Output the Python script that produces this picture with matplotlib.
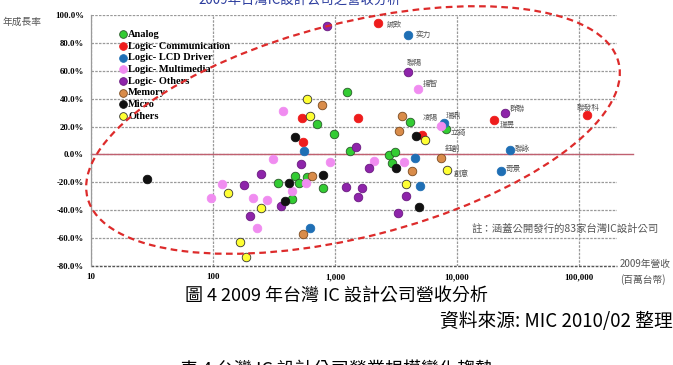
import matplotlib
matplotlib.use("Agg")
from matplotlib import pyplot as plt
from matplotlib.patches import Ellipse
from matplotlib.ticker import FuncFormatter

# 2009 revenue (NT$ million) and yearly growth (%), per segment
analog_rev = [980, 712, 1247, 4120, 8130, 1327, 2787, 3100, 2910, 473, 592, 343, 509, 804, 447]
analog_gr = [15, 21.7, 44.9, 23.4, 18.6, 2.4, -0.5, 1.4, -6, -15.8, -16.3, -20.8, -20.8, -24.4, -32.3]

comm_rev = [537, 548, 2265, 1535, 5130, 20200, 115600]
comm_gr = [26.2, 9, 94.6, 25.8, 13.8, 24.6, 28.2]

lcd_rev = [553, 3990, 7870, 4530, 5010, 27200, 22800, 621]
lcd_gr = [2.4, 85.5, 22.9, -2.9, -22.5, 3.1, -11.7, -52.5]

mm_rev = [375, 309, 909, 578, 119, 442, 95.5, 211, 279, 230, 4754, 7395, 2090, 3680]
mm_gr = [31, -3, -5.7, -20.8, -21.3, -26, -31, -31, -32.8, -52.5, 46.8, 20.3, -4.6, -5.3]

lo_rev = [859, 524, 249, 181, 361, 201, 3990, 24700, 1479, 1900, 1224, 1655, 1552, 3800, 3265]
lo_gr = [92, -6.5, -14.3, -22, -37, -44.2, 59.2, 29.4, 5.4, -9.6, -23.2, -23.9, -30.4, -29.9, -41.9]

mem_rev = [781, 648, 549, 3565, 3350, 7390, 4270]
mem_gr = [35.8, -15.3, -57, 27.5, 16.9, -2.4, -12]

micro_rev = [28.6, 473, 793, 417, 389, 4580, 3140, 4910]
micro_gr = [-17.7, 12.6, -14.8, -20.8, -33.5, 13.1, -9.6, -37.6]

oth_rev = [589, 624, 132, 246, 166, 186, 5470, 8280, 3800]
oth_gr = [39.6, 27.5, -28, -38.1, -63, -73.7, 10.3, -10.8, -21.5]

segments = ["Analog", "Logic- Communication", "Logic- LCD Driver", "Logic- Multimedia",
            "Logic- Others", "Memory", "Micro", "Others"]
revenues = [analog_rev, comm_rev, lcd_rev, mm_rev, lo_rev, mem_rev, micro_rev, oth_rev]
growths = [analog_gr, comm_gr, lcd_gr, mm_gr, lo_gr, mem_gr, micro_gr, oth_gr]
colors = ["#33cc33", "#ee1c1c", "#1f6fb5", "#f08cf0", "#8e24aa", "#d98c4a", "#111111", "#ffff33"]
edges = ["#2a5a2a", "#ee1c1c", "#1f6fb5", "#f08cf0", "#6a1a80", "#7a4a20", "#111111", "#333333"]

# labelled companies: name, segment index, point index
named = [("誠致", 1, 2), ("奕力", 2, 1), ("聯陽", 4, 6), ("揚智", 3, 10), ("凌陽", 3, 11),
         ("瑞鼎", 2, 2), ("立錡", 0, 4), ("群聯", 4, 7), ("瑞昱", 1, 5), ("聯發科", 1, 6),
         ("鈺創", 5, 5), ("聯詠", 2, 5), ("奇景", 2, 6), ("創意", 7, 7)]
label_style = {"誠致": (6, -1.5, "left"), "奕力": (5, 0, "left"), "聯陽": (4, 6.5, "center"),
               "揚智": (4, 3.5, "left"), "凌陽": (-2, 6, "right"), "瑞鼎": (1, 5, "left"),
               "立錡": (3.5, -3.5, "left"), "群聯": (3.5, 3.5, "left"), "瑞昱": (4, -3.5, "left"),
               "聯發科": (1, 5, "center"), "鈺創": (3, 6.5, "left"), "聯詠": (3.5, 0.7, "left"),
               "奇景": (3.5, 1.5, "left"), "創意": (5, -3.5, "left")}

cjk = ["Noto Sans CJK TC", "DejaVu Sans"]
serif = "Liberation Serif"

fig = plt.figure(figsize=(6.73, 3.65), dpi=100)
ax = fig.add_axes([91 / 673, 1 - 266 / 365, 526 / 673, 251 / 365])

for name, xs, ys, c, ec in zip(segments, revenues, growths, colors, edges):
    ax.scatter(xs, ys, s=38, c=c, edgecolors=ec, linewidths=0.6, label=name, zorder=3)

for name, si, pi in named:
    dx, dy, ha = label_style[name]
    ax.annotate(name, (revenues[si][pi], growths[si][pi]), xytext=(dx, dy),
                textcoords="offset points", ha=ha, va="center", fontsize=5.5,
                color="#555555", family=cjk, zorder=4)

ax.set_xscale("log")
ax.set_xlim(10, 2.05e5)
ax.set_ylim(-80, 100)
ax.set_xticks([10, 100, 1000, 10000, 100000])
ax.set_yticks(range(-80, 101, 20))
ax.xaxis.set_major_formatter(FuncFormatter(lambda v, p: f"{int(v):,}"))
ax.yaxis.set_major_formatter(FuncFormatter(lambda v, p: f"{v:.1f}%"))
ax.xaxis.set_minor_locator(matplotlib.ticker.NullLocator())
ax.tick_params(length=0, labelsize=6.3, pad=5)
for t in ax.get_xticklabels() + ax.get_yticklabels():
    t.set_fontfamily(serif)
    t.set_fontweight("bold")

ax.grid(True, color="#9a9a9a", linestyle=(0, (2, 1)), linewidth=0.9)
for s in ["top", "right", "bottom"]:
    ax.spines[s].set_visible(False)
ax.spines["left"].set_color("#9a9a9a")
ax.spines["left"].set_linewidth(0.9)
ax.axhline(-80, color="#555555", linestyle=(0, (2, 1)), linewidth=1.0, zorder=2, clip_on=False)
ax.axhline(0, xmin=0, xmax=1.03, color="#c06070", linewidth=1.0, zorder=2, clip_on=False)

ax.legend(loc="upper left", bbox_to_anchor=(0.041, 0.962), frameon=False,
          prop={"family": serif, "weight": "bold", "size": 7.5}, handletextpad=0.0,
          labelspacing=0.23, borderpad=0, handlelength=1.0, markerscale=0.9)

# dashed ellipse drawn in figure pixels
ov = fig.add_axes([0, 0, 1, 1], facecolor="none")
ov.set_xlim(0, 673)
ov.set_ylim(0, 365)
ov.axis("off")
ov.add_patch(Ellipse((353, 365 - 130), 548, 214, angle=14.3, fill=False, edgecolor="#dd2b2b",
                     linewidth=1.6, linestyle=(0, (3, 2))))

fig.text(300 / 673, 1.0, "2009年台灣IC設計公司之營收分析", ha="center", va="center",
         fontsize=9.6, color="#2b3c9e", family=cjk)
fig.text(3 / 673, 1 - 22 / 365, "年成長率", ha="left", va="center", fontsize=7,
         color="#555555", family=cjk)
fig.text(620 / 673, 1 - 264 / 365, "2009年營收", ha="left", va="center", fontsize=7,
         color="#555555", family=cjk)
fig.text(620 / 673, 1 - 280 / 365, "(百萬台幣)", ha="left", va="center", fontsize=7,
         color="#555555", family=cjk)
fig.text(472 / 673, 1 - 229 / 365, "註：涵蓋公開發行的83家台灣IC設計公司", ha="left", va="center",
         fontsize=7.5, color="#555555", family=cjk)
fig.text(185 / 673, 1 - 297 / 365, "圖 4 2009 年台灣 IC 設計公司營收分析", ha="left", va="center",
         fontsize=13, color="black", family=cjk)
fig.text(440 / 673, 1 - 322 / 365, "資料來源: MIC 2010/02 整理", ha="left", va="center",
         fontsize=13.5, color="black", family=cjk)
fig.text(180 / 673, 1 - 370 / 365, "表 4 台灣 IC 設計公司營業規模變化趨勢", ha="left", va="center",
         fontsize=13, color="black", family=cjk)

fig.savefig("out.png", dpi=100)
